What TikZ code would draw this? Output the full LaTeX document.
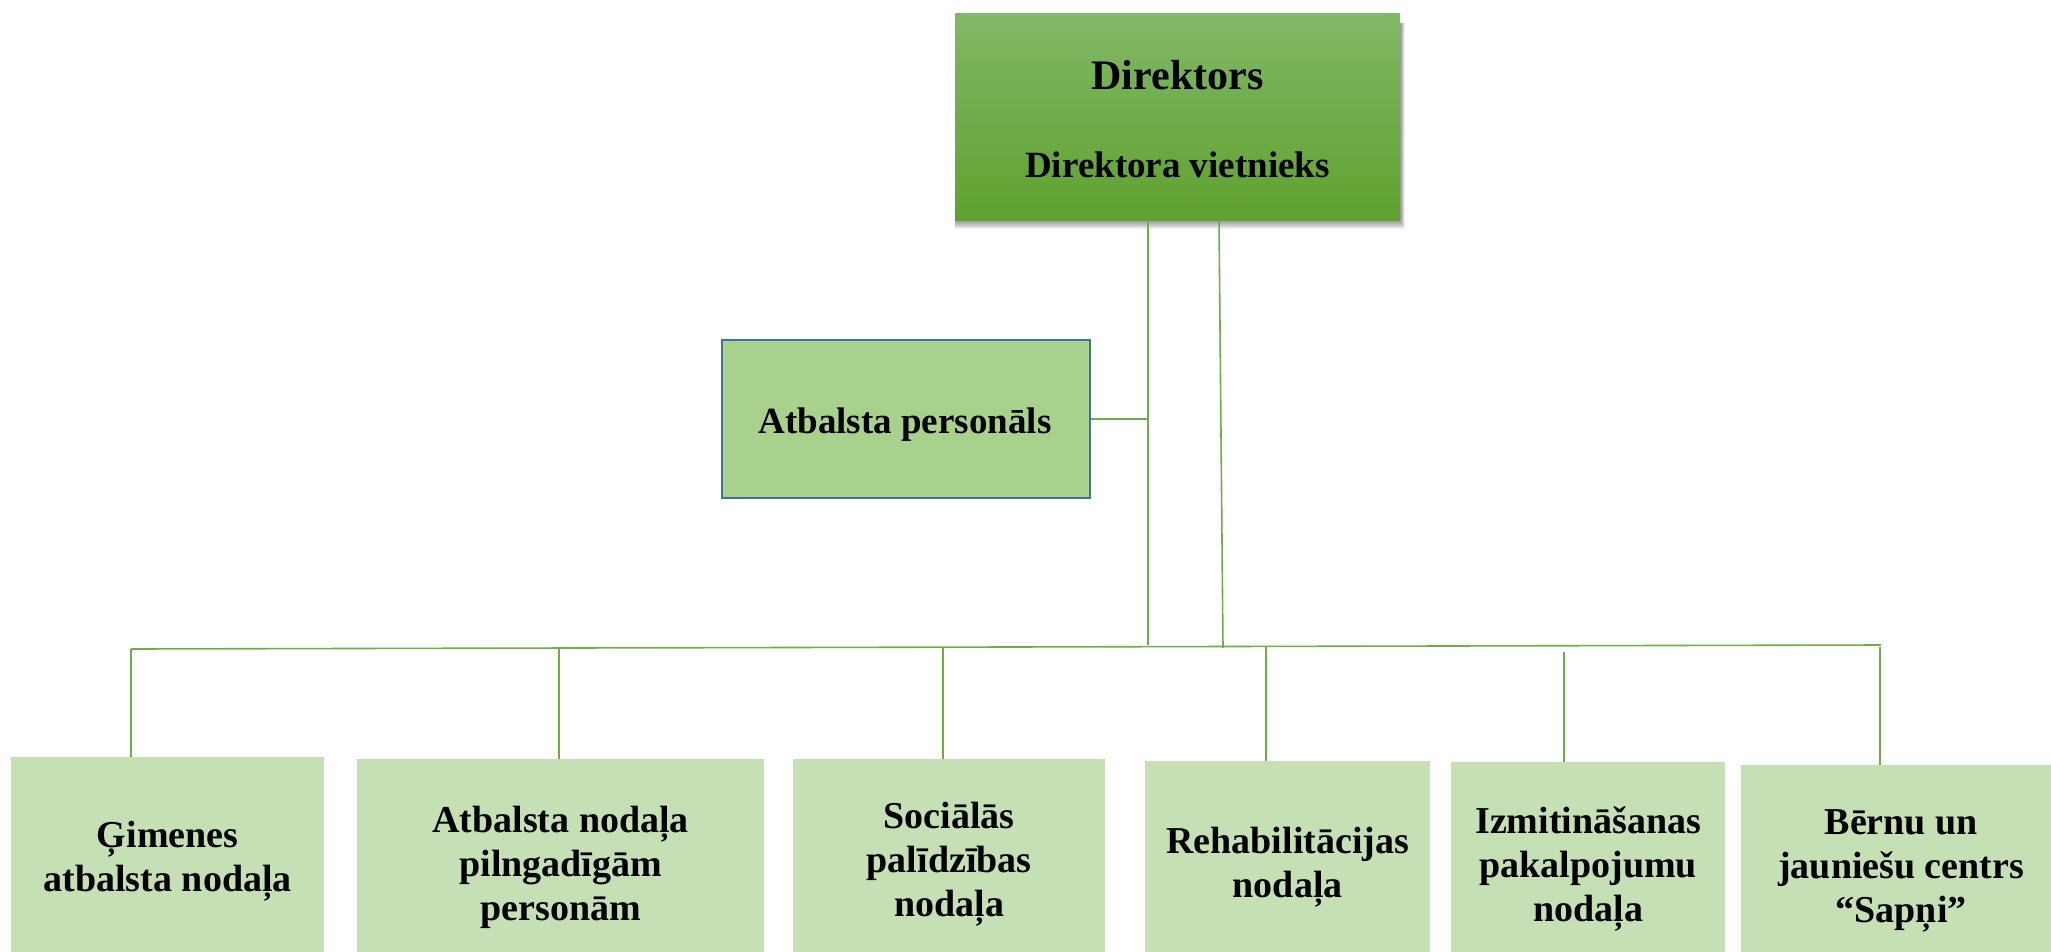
\documentclass[tikz,border=0pt]{standalone}
\usepackage{fontspec}
\setmainfont{Liberation Serif}
\usetikzlibrary{backgrounds}
\definecolor{lineg}{HTML}{70AD47}
\definecolor{topA}{HTML}{81B866}
\definecolor{topB}{HTML}{5FA12F}
\definecolor{apfill}{HTML}{A9D18E}
\definecolor{apborder}{HTML}{41719C}
\definecolor{boxfill}{HTML}{C5E0B4}
\newcommand\bigdirfont{\fontsize{42}{48}\selectfont\bfseries}
\newcommand\normdirfont{\fontsize{37}{44}\selectfont\bfseries}
\newcommand\deptfont{\fontsize{38}{44}\selectfont\bfseries}
\tikzset{
  conn/.style={draw=lineg, line width=1.6pt},
  topbox/.style={rectangle, inner sep=0pt, anchor=north west,
    top color=topA, bottom color=topB},
  apbox/.style={rectangle, inner sep=0pt, anchor=north west, fill=apfill,
    draw=apborder, line width=2.4pt},
  deptbox/.style={rectangle, inner sep=0pt, anchor=north west, fill=boxfill,
    align=center, font=\deptfont},
  txt/.style={inner sep=0pt, anchor=base, align=center}
}
\begin{document}
\begin{tikzpicture}[x=1pt,y=-1pt]
\useasboundingbox (0,0) rectangle (2051,951);
\clip (0,0) rectangle (2051,951);
% top box
\node[topbox, minimum width=445pt, minimum height=207pt] (top) at (955,13) {};
\begin{scope}[on background layer]
  \foreach \i in {1,...,9} {
    \fill[black, opacity=0.055]
      ([xshift=-0.5pt, yshift=-10pt]top.north west) rectangle
      ([xshift={0.5*\i pt}, yshift={-\i pt}]top.south east);
  }
\end{scope}
\node[txt, font=\bigdirfont] (dir) at (1177.5,89) {Direktors};
\node[txt, font=\normdirfont] (dirv) at (1177.5,177) {Direktora vietnieks};
% support staff
\node[apbox, minimum width=368pt, minimum height=158pt] (ap) at (721,339) {};
\node[txt, font=\normdirfont] (apt) at (905,433) {Atbalsta personāls};
% departments
\node[deptbox, minimum width=313pt, minimum height=207pt] (b1) at (11,757) {Ģimenes\\atbalsta nodaļa};
\node[deptbox, minimum width=407pt, minimum height=217pt] (b2) at (357,759) {Atbalsta nodaļa\\pilngadīgām\\personām};
\node[deptbox, minimum width=312pt, minimum height=209pt] (b3) at (793,759) {Sociālās\\palīdzības\\nodaļa};
\node[deptbox, minimum width=285pt, minimum height=211pt] (b4) at (1145,761) {Rehabilitācijas\\nodaļa};
\node[deptbox, minimum width=274pt, minimum height=214pt] (b5) at (1451,762) {Izmitināšanas\\pakalpojumu\\nodaļa};
\node[deptbox, minimum width=320pt, minimum height=211pt] (b6) at (1741,765) {Bērnu un\\jauniešu centrs\\“Sapņi”};
% connector coordinates
\coordinate (v1) at (1148,645);
\coordinate (v2a) at (1219,220);
\coordinate (v2) at (1223,648);
\coordinate (busL) at (131,649);
\coordinate (busR) at (1881,645);
\coordinate (d2) at (559,649);
\coordinate (d3) at (943,648);
\coordinate (d4) at (1266,647);
\coordinate (d5) at (1564,652);
\coordinate (d6) at (1880,647);
% connectors
\draw[conn] (top.south -| v1) -- (v1);
\draw[conn] (top.south -| v2a) -- (v2);
\draw[conn] (ap.east) -- (ap.east -| v1);
\draw[conn] (busL) -- (busR);
\draw[conn] (busL) -- (busL |- b1.north);
\draw[conn] (d2) -- (d2 |- b2.north);
\draw[conn] (d3) -- (d3 |- b3.north);
\draw[conn] (d4) -- (d4 |- b4.north);
\draw[conn] (d5) -- (d5 |- b5.north);
\draw[conn] (d6) -- (d6 |- b6.north);
\end{tikzpicture}
\end{document}
